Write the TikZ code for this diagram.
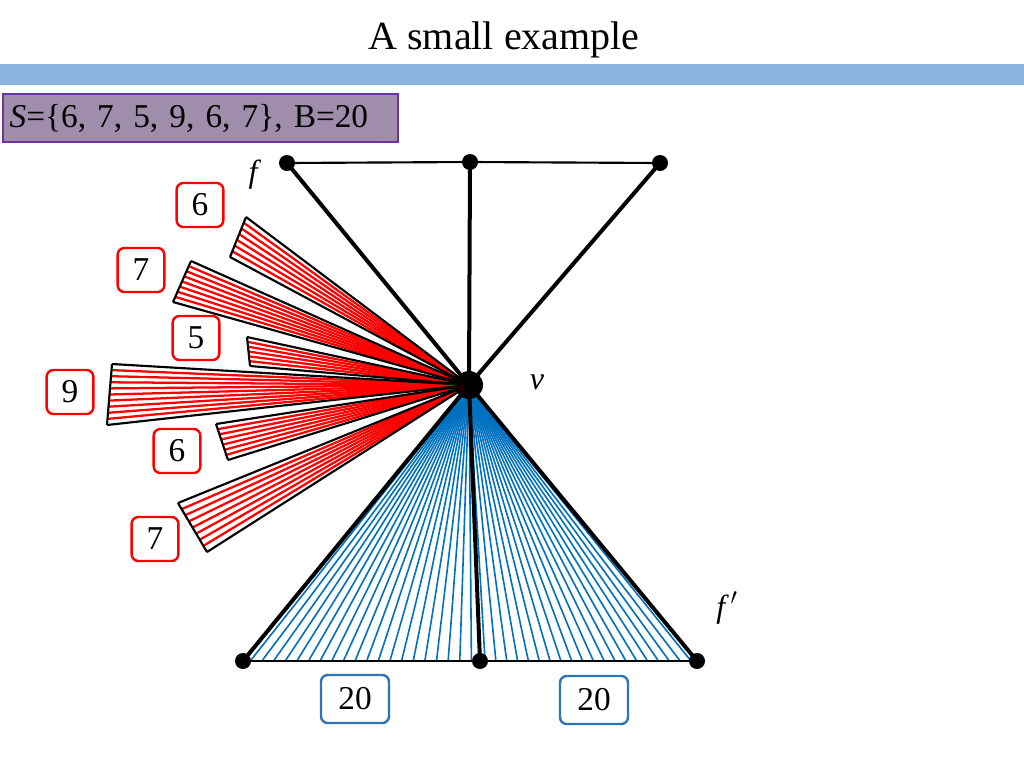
\documentclass[tikz,border=0pt]{standalone}
\usepackage{fontspec}
\setmainfont{Liberation Serif}
\usetikzlibrary{calc}
\pgfdeclarelayer{back}
\pgfdeclarelayer{bg}
\pgfsetlayers{back,bg,main}
\definecolor{barblue}{RGB}{141,180,226}
\definecolor{sfill}{RGB}{160,141,172}
\definecolor{sdraw}{RGB}{112,48,160}
\definecolor{fanblue}{RGB}{0,112,192}
\definecolor{boxblue}{RGB}{46,117,182}
\begin{document}
\begin{tikzpicture}[x=0.75pt,y=-0.75pt,
  thickedge/.style={line width=3pt},
  thinedge/.style={line width=1.6pt},
  redray/.style={draw=red, line width=1.7pt},
  blueray/.style={draw=fanblue, line width=1.2pt},
  dot/.style={circle, fill=black, inner sep=0pt, minimum size=12pt},
  bigdot/.style={circle, fill=black, inner sep=0pt, minimum size=21pt},
  rbox/.style={draw=red, line width=1.8pt, rounded corners=5pt, fill=white, minimum width=35pt, minimum height=33pt, inner sep=0pt, font=\fontsize{25}{30}\selectfont},
  bbox/.style={draw=boxblue, line width=1.8pt, rounded corners=5pt, fill=white, minimum width=51pt, minimum height=36pt, inner sep=0pt, font=\fontsize{25}{30}\selectfont},
  lbl/.style={font=\fontsize{24}{28}\selectfont\itshape}
]
\begin{pgfonlayer}{back}
  \fill[white] (0,0) rectangle (1024,768);
\end{pgfonlayer}
\useasboundingbox (0,0) rectangle (1024,768);
\node[font=\fontsize{30}{36}\selectfont] (title) at (504,40) {A small example};
\fill[barblue] (0,64) rectangle (1024,85);
\node[draw=sdraw, fill=sfill, line width=1.5pt, anchor=north west, minimum height=36pt, text width=286pt, inner xsep=5pt, align=left, font=\fontsize{25}{30}\selectfont] (S) at (2,93) {\textit{S}=\{6, 7, 5, 9, 6, 7\}, B=20};

% vertices
\node[bigdot] (v) at (469,385) {};
\node[dot] (t1) at (287,163) {};
\node[dot] (t2) at (470,162) {};
\node[dot] (t3) at (660,163) {};
\node[dot] (b1) at (243,661) {};
\node[dot] (b2) at (480,661) {};
\node[dot] (b3) at (697,661) {};

\node[lbl] (lf) at (253,175) {f};
\node[lbl] (lv) at (537,382) {v};
\node[lbl] (lf2) at (727,608) {f\,$^{\prime}$};

% red fans
\foreach \ax/\ay/\bx/\by/\num/\lx/\ly [count=\k] in {246/217/230/257/6/200/205, 191/261/173/302/7/141/270, 247/337/250/366/5/196/338, 112/364/107/425/9/70/392, 216/424/228/460/6/177/451, 178/503/207/552/7/155/539}
{
  \coordinate (A\k) at (\ax,\ay);
  \coordinate (B\k) at (\bx,\by);
  \begin{pgfonlayer}{bg}
    \foreach \j in {1,...,\num}
      \draw[redray] (v.center) -- ($(A\k)!{\j/(\num+1)}!(B\k)$);
    \draw[thinedge] (A\k) -- (v.center) -- (B\k);
    \draw[thinedge] (A\k) -- (B\k);
  \end{pgfonlayer}
  \node[rbox] (n\k) at (\lx,\ly) {\num};
}

\begin{pgfonlayer}{bg}
  \foreach \j in {0,...,19}
    \draw[blueray] (v.center) -- ({251+\j*11.6},660);
  \foreach \j in {0,...,19}
    \draw[blueray] (v.center) -- ({485+\j*10.8},660);
  \draw[thinedge] (t1.center) -- (t2.center) -- (t3.center);
  \draw[line width=2pt] (b1.center) -- (b2.center) -- (b3.center);
  \draw[thickedge] (t1.center) -- (v.center);
  \draw[thickedge] (t2.center) -- (v.center);
  \draw[thickedge] (t3.center) -- (v.center);
  \draw[thickedge] (v.center) -- (b1.center);
  \draw[thickedge] (v.center) -- (b2.center);
  \draw[thickedge] (v.center) -- (b3.center);
\end{pgfonlayer}

\node[bbox] (w1) at (355,699) {20};
\node[bbox] (w2) at (594,700) {20};
\end{tikzpicture}
\end{document}
